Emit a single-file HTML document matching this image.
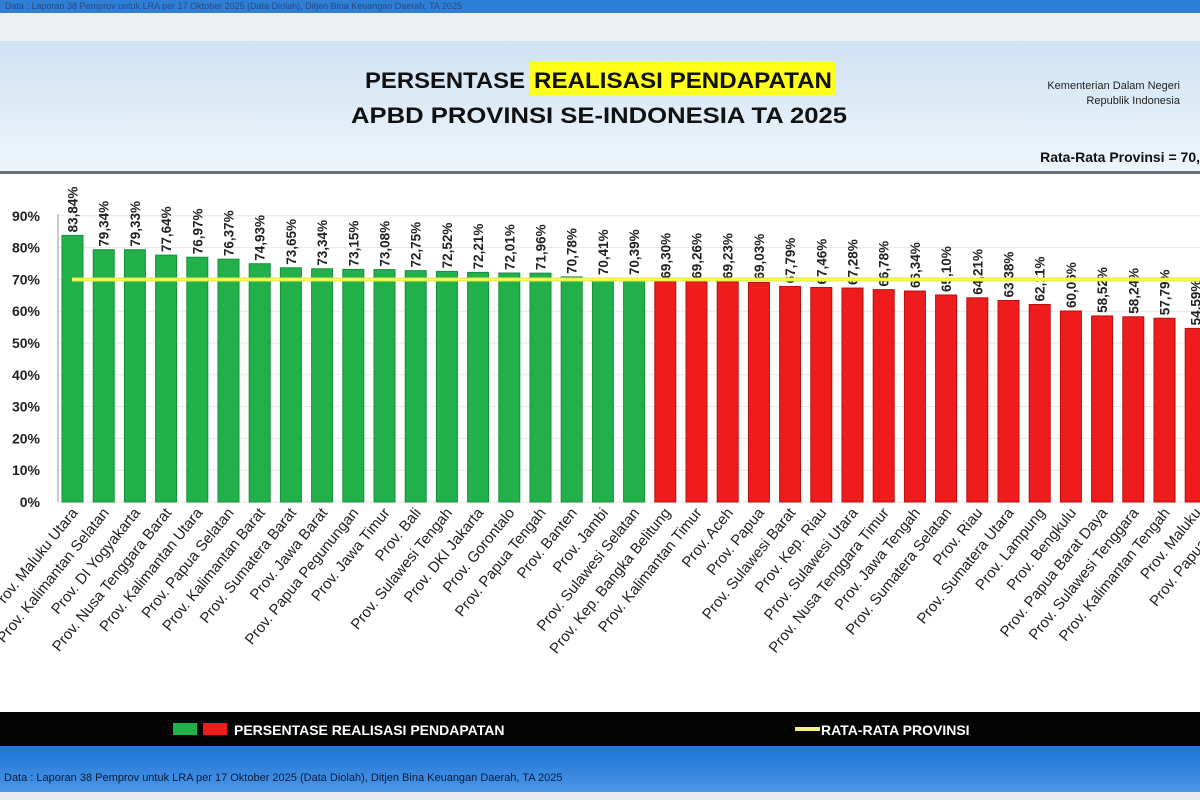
<!DOCTYPE html>
<html><head><meta charset="utf-8"><style>
html,body{margin:0;padding:0;width:1200px;height:800px;overflow:hidden;background:#fff;font-family:"Liberation Sans",sans-serif}
</style></head><body>
<svg width="1200" height="800" xmlns="http://www.w3.org/2000/svg" font-family="Liberation Sans, sans-serif">
<defs>
<linearGradient id="hd" x1="0" y1="0" x2="0" y2="1"><stop offset="0" stop-color="#cfe2f3"/><stop offset="1" stop-color="#eef5fb"/></linearGradient>
<linearGradient id="bl" x1="0" y1="0" x2="0" y2="1"><stop offset="0" stop-color="#1f74d8"/><stop offset="1" stop-color="#4a95e4"/></linearGradient>
</defs>
<rect x="0" y="0" width="1200" height="13" fill="#2f7fd6"/>
<text x="5" y="9" font-size="9" fill="#1a2a4a" opacity="0.6">Data : Laporan 38 Pemprov untuk LRA per 17 Oktober 2025 (Data Diolah), Ditjen Bina Keuangan Daerah, TA 2025</text>
<rect x="0" y="13" width="1200" height="28" fill="#eceef0"/>
<rect x="0" y="41" width="1200" height="131" fill="url(#hd)"/>
<rect x="0" y="171" width="1200" height="3" fill="#6a7078"/>
<rect x="530" y="62" width="306" height="33" fill="#ffff1a"/>
<text x="365" y="88" font-size="22" font-weight="bold" fill="#111" textLength="160" lengthAdjust="spacingAndGlyphs">PERSENTASE</text>
<text x="534" y="88" font-size="22" font-weight="bold" fill="#111" textLength="298" lengthAdjust="spacingAndGlyphs">REALISASI PENDAPATAN</text>
<text x="351" y="123" font-size="22" font-weight="bold" fill="#111" textLength="496" lengthAdjust="spacingAndGlyphs">APBD PROVINSI SE-INDONESIA TA 2025</text>
<text x="1180" y="89" font-size="11" text-anchor="end" fill="#222">Kementerian Dalam Negeri</text>
<text x="1180" y="104" font-size="11" text-anchor="end" fill="#222">Republik Indonesia</text>
<text x="1200" y="162" font-size="14" font-weight="bold" text-anchor="end" fill="#111">Rata-Rata Provinsi = 70,</text>
<g id="chart"></g>
<rect x="0" y="712" width="1200" height="34" fill="#050505"/>
<rect x="173" y="723" width="24" height="12" fill="#22b04a"/>
<rect x="203" y="723" width="24" height="12" fill="#ee1c1c"/>
<text x="234" y="735" font-size="14" font-weight="bold" fill="#fff">PERSENTASE REALISASI PENDAPATAN</text>
<rect x="795" y="727" width="25" height="4" fill="#f0f07a"/>
<text x="821" y="735" font-size="14" font-weight="bold" fill="#fff">RATA-RATA PROVINSI</text>
<rect x="0" y="746" width="1200" height="46" fill="url(#bl)"/>
<text x="4" y="781" font-size="11" fill="#0a1a3a">Data : Laporan 38 Pemprov untuk LRA per 17 Oktober 2025 (Data Diolah), Ditjen Bina Keuangan Daerah, TA 2025</text>
<rect x="0" y="792" width="1200" height="8" fill="#e8eaee"/>
</svg>
<script>
var d=[["Prov. Maluku Utara",83.84],["Prov. Kalimantan Selatan",79.34],["Prov. DI Yogyakarta",79.33],["Prov. Nusa Tenggara Barat",77.64],["Prov. Kalimantan Utara",76.97],["Prov. Papua Selatan",76.37],["Prov. Kalimantan Barat",74.93],["Prov. Sumatera Barat",73.65],["Prov. Jawa Barat",73.34],["Prov. Papua Pegunungan",73.15],["Prov. Jawa Timur",73.08],["Prov. Bali",72.75],["Prov. Sulawesi Tengah",72.52],["Prov. DKI Jakarta",72.21],["Prov. Gorontalo",72.01],["Prov. Papua Tengah",71.96],["Prov. Banten",70.78],["Prov. Jambi",70.41],["Prov. Sulawesi Selatan",70.39],["Prov. Kep. Bangka Belitung",69.30],["Prov. Kalimantan Timur",69.26],["Prov. Aceh",69.23],["Prov. Papua",69.03],["Prov. Sulawesi Barat",67.79],["Prov. Kep. Riau",67.46],["Prov. Sulawesi Utara",67.28],["Prov. Nusa Tenggara Timur",66.78],["Prov. Jawa Tengah",66.34],["Prov. Sumatera Selatan",65.10],["Prov. Riau",64.21],["Prov. Sumatera Utara",63.38],["Prov. Lampung",62.11],["Prov. Bengkulu",60.06],["Prov. Papua Barat Daya",58.52],["Prov. Sulawesi Tenggara",58.24],["Prov. Kalimantan Tengah",57.79],["Prov. Maluku",54.59],["Prov. Papua Barat",52.0]];
var s="",y0=502,k=3.18;
for(var i=0;i<=9;i++){var y=y0-i*10*k;s+='<line x1="58" x2="1200" y1="'+y+'" y2="'+y+'" stroke="#e6e6e6"/>';s+='<text x="40" y="'+(y+5)+'" font-size="14" font-weight="bold" text-anchor="end" fill="#222">'+(i*10)+'%</text>';}
s+='<line x1="58" x2="58" y1="214" y2="502" stroke="#999"/>';
d.forEach(function(e,i){var x=62+i*31.2,h=e[1]*k,c=i<19?"#22b04a":"#ee1c1c",cx=x+10.5;
s+='<rect x="'+x+'" y="'+(y0-h)+'" width="21" height="'+h+'" fill="'+c+'" stroke="'+(i<19?"#169038":"#b51010")+'" stroke-width="1"/>';
if(i<37)s+='<text transform="translate('+(cx+5)+' '+(y0-h-3)+') rotate(-90)" font-size="13.5" font-weight="bold" fill="#222">'+e[1].toFixed(2).replace(".",",")+'%</text>';
s+='<text transform="translate('+(cx+6)+' 513) rotate(-51)" font-size="15" fill="#222" text-anchor="end">'+e[0]+'</text>';});
s+='<line x1="72" x2="1200" y1="279.5" y2="279.5" stroke="#e4ec3a" stroke-width="4"/><line x1="72" x2="1200" y1="279.5" y2="279.5" stroke="#fafa80" stroke-width="1.5"/>';
document.getElementById("chart").innerHTML=s;
</script>
</body></html>
